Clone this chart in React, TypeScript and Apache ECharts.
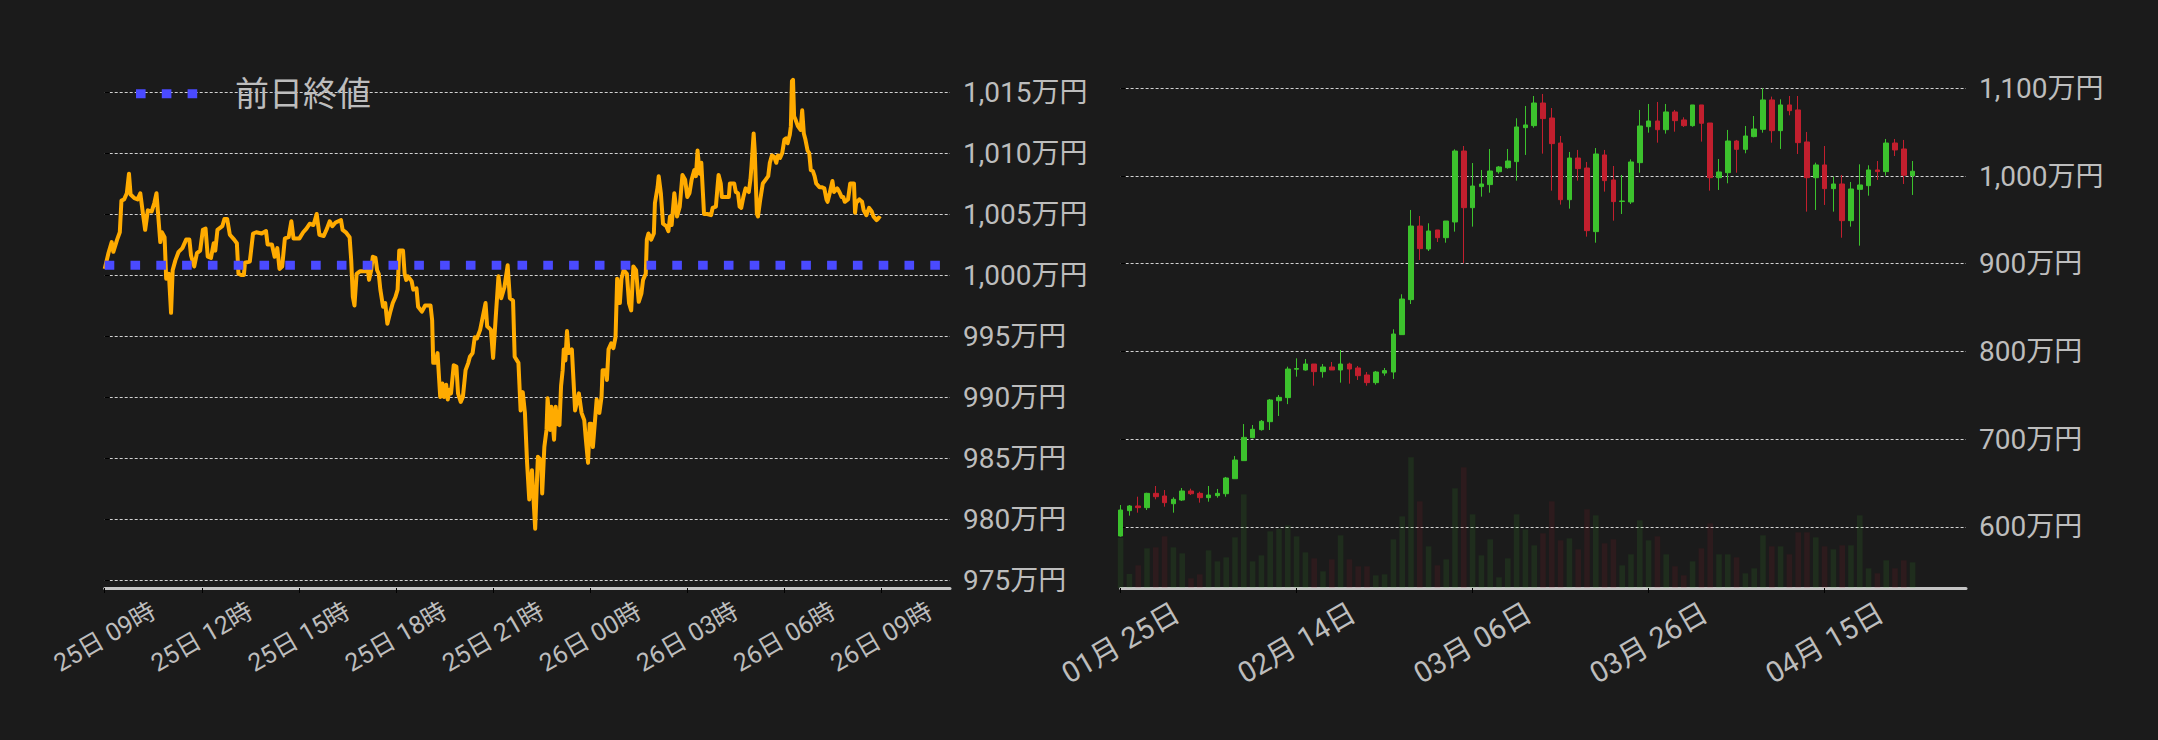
import React, { useEffect, useRef } from 'react';
import * as echarts from 'echarts';

// ---------- Left chart: intraday price (万円) ----------
const intradayPrices: [string, number][] = [
  ['25 09:00',1000.5],['25 09:07',1001.8],['25 09:13',1002.7],['25 09:16',1001.9],['25 09:23',1002.9],['25 09:28',1003.5],['25 09:31',1006.1],['25 09:36',1006.2],['25 09:41',1006.7],['25 09:45',1008.3],['25 09:48',1006.6],['25 09:55',1006.3],['25 10:01',1006.2],['25 10:06',1006.7],['25 10:11',1005.0],['25 10:15',1003.7],['25 10:20',1005.3],['25 10:27',1005.2],['25 10:32',1005.9],['25 10:36',1006.7],['25 10:39',1005.0],['25 10:43',1002.7],['25 10:46',1003.5],['25 10:51',1003.1],['25 10:54',999.7],['25 10:59',1000.1],['25 11:03',996.9],['25 11:06',1000.4],['25 11:11',1001.2],['25 11:17',1001.9],['25 11:24',1002.2],['25 11:31',1002.9],['25 11:37',1002.9],['25 11:40',1001.6],['25 11:46',1000.7],['25 11:51',1001.8],['25 11:57',1002.0],['25 12:02',1003.7],['25 12:07',1003.8],['25 12:11',1001.5],['25 12:17',1001.4],['25 12:22',1002.6],['25 12:25',1002.0],['25 12:29',1003.7],['25 12:38',1004.0],['25 12:42',1004.6],['25 12:47',1004.6],['25 12:52',1003.3],['25 13:00',1002.9],['25 13:05',1002.6],['25 13:08',1000.1],['25 13:13',1000.0],['25 13:18',1000.0],['25 13:20',1001.0],['25 13:29',1001.1],['25 13:35',1003.4],['25 13:41',1003.5],['25 13:51',1003.4],['25 13:59',1003.6],['25 14:02',1002.5],['25 14:10',1002.5],['25 14:15',1001.5],['25 14:20',1002.2],['25 14:24',1000.5],['25 14:29',1000.7],['25 14:34',1003.0],['25 14:41',1003.1],['25 14:46',1004.4],['25 14:50',1003.0],['25 15:01',1003.0],['25 15:08',1003.5],['25 15:14',1003.8],['25 15:20',1004.2],['25 15:27',1004.1],['25 15:33',1005.0],['25 15:38',1003.3],['25 15:46',1003.2],['25 15:52',1003.8],['25 15:57',1004.4],['25 16:02',1004.0],['25 16:08',1004.3],['25 16:18',1004.5],['25 16:21',1003.7],['25 16:27',1003.5],['25 16:34',1003.1],['25 16:37',1001.2],['25 16:40',998.2],['25 16:43',997.5],['25 16:47',1000.1],['25 16:53',1000.3],['25 17:03',1000.3],['25 17:08',1000.4],['25 17:10',999.6],['25 17:14',1000.4],['25 17:17',1001.5],['25 17:22',1001.4],['25 17:25',1000.4],['25 17:28',1000.1],['25 17:31',998.8],['25 17:36',997.4],['25 17:40',997.7],['25 17:44',996.0],['25 17:49',996.9],['25 17:54',997.7],['25 17:59',998.2],['25 18:03',998.8],['25 18:06',1002.0],['25 18:13',1002.0],['25 18:16',1000.1],['25 18:19',999.6],['25 18:22',999.9],['25 18:29',999.5],['25 18:32',998.8],['25 18:38',998.9],['25 18:41',997.4],['25 18:48',997.0],['25 18:54',997.5],['25 19:04',997.5],['25 19:07',996.3],['25 19:09',992.8],['25 19:13',992.8],['25 19:17',993.6],['25 19:22',990.0],['25 19:26',991.1],['25 19:29',990.0],['25 19:33',991.0],['25 19:36',989.8],['25 19:39',990.6],['25 19:42',990.3],['25 19:47',992.6],['25 19:52',992.5],['25 19:55',990.3],['25 20:00',989.6],['25 20:04',990.0],['25 20:09',992.2],['25 20:14',992.8],['25 20:17',993.3],['25 20:22',993.6],['25 20:26',994.9],['25 20:30',994.8],['25 20:36',995.5],['25 20:46',997.7],['25 20:49',995.8],['25 20:56',995.5],['25 21:00',993.2],['25 21:05',996.6],['25 21:10',999.9],['25 21:15',998.1],['25 21:21',999.0],['25 21:27',1000.8],['25 21:31',998.1],['25 21:37',997.9],['25 21:40',993.3],['25 21:47',992.8],['25 21:51',988.9],['25 21:55',990.4],['25 21:59',988.7],['25 22:03',984.6],['25 22:07',981.6],['25 22:12',984.0],['25 22:18',979.2],['25 22:23',985.1],['25 22:29',984.8],['25 22:31',982.1],['25 22:35',985.9],['25 22:39',987.3],['25 22:41',989.9],['25 22:46',987.3],['25 22:48',989.2],['25 22:53',986.5],['25 22:56',989.2],['25 22:59',987.8],['25 23:03',987.7],['25 23:06',990.9],['25 23:09',992.2],['25 23:11',993.9],['25 23:14',993.0],['25 23:17',995.4],['25 23:20',993.6],['25 23:26',993.9],['25 23:29',991.4],['25 23:32',988.9],['25 23:39',990.3],['25 23:44',988.7],['25 23:49',988.1],['25 23:52',986.5],['25 23:56',984.6],['25 23:59',987.8],
  ['26 00:02',987.8],['26 00:05',985.9],['26 00:09',988.1],['26 00:12',989.8],['26 00:17',988.7],['26 00:21',990.0],['26 00:23',992.2],['26 00:29',992.2],['26 00:31',991.4],['26 00:34',993.9],['26 00:39',994.4],['26 00:43',994.0],['26 00:47',994.9],['26 00:50',999.7],['26 00:55',997.7],['26 00:58',999.7],['26 01:02',1000.4],['26 01:08',1000.1],['26 01:12',997.7],['26 01:16',997.1],['26 01:20',1000.7],['26 01:25',1000.4],['26 01:30',997.8],['26 01:35',998.5],['26 01:38',999.6],['26 01:43',1000.1],['26 01:45',1002.9],['26 01:48',1003.4],['26 01:53',1002.9],['26 01:58',1003.4],['26 02:00',1005.9],['26 02:05',1007.2],['26 02:07',1008.1],['26 02:11',1006.7],['26 02:15',1004.2],['26 02:21',1004.0],['26 02:25',1003.6],['26 02:28',1004.8],['26 02:31',1004.1],['26 02:36',1006.7],['26 02:41',1004.8],['26 02:46',1005.6],['26 02:51',1008.2],['26 02:56',1007.8],['26 03:00',1006.4],['26 03:04',1006.7],['26 03:08',1007.8],['26 03:13',1008.6],['26 03:16',1008.1],['26 03:19',1010.2],['26 03:23',1008.3],['26 03:26',1009.2],['26 03:29',1006.7],['26 03:31',1005.0],['26 03:37',1005.0],['26 03:44',1004.9],['26 03:47',1005.5],['26 03:53',1005.6],['26 03:56',1007.2],['26 03:58',1008.2],['26 04:02',1007.5],['26 04:04',1006.4],['26 04:10',1006.4],['26 04:17',1006.4],['26 04:19',1007.5],['26 04:27',1007.5],['26 04:30',1006.8],['26 04:34',1006.7],['26 04:37',1005.6],['26 04:40',1005.5],['26 04:44',1006.4],['26 04:48',1007.1],['26 04:54',1006.8],['26 04:57',1007.8],['26 04:59',1008.9],['26 05:03',1011.6],['26 05:05',1010.2],['26 05:09',1005.0],['26 05:11',1004.8],['26 05:15',1006.1],['26 05:20',1007.5],['26 05:25',1007.8],['26 05:30',1008.1],['26 05:33',1009.2],['26 05:37',1009.8],['26 05:41',1009.7],['26 05:45',1009.2],['26 05:48',1009.8],['26 05:52',1009.6],['26 05:56',1010.0],['26 06:00',1011.1],['26 06:03',1011.2],['26 06:06',1010.8],['26 06:10',1011.5],['26 06:12',1012.2],['26 06:14',1015.9],['26 06:16',1016.0],['26 06:18',1013.0],['26 06:21',1012.7],['26 06:25',1012.2],['26 06:30',1011.9],['26 06:33',1013.5],['26 06:36',1011.6],['26 06:39',1011.1],['26 06:43',1010.2],['26 06:46',1010.0],['26 06:49',1008.6],['26 06:53',1008.5],['26 06:56',1008.1],['26 06:59',1007.5],['26 07:05',1007.2],['26 07:09',1007.2],['26 07:14',1007.1],['26 07:18',1006.2],['26 07:20',1006.0],['26 07:24',1006.7],['26 07:29',1007.7],['26 07:32',1006.8],['26 07:38',1007.1],['26 07:42',1006.8],['26 07:46',1006.4],['26 07:49',1006.4],['26 07:52',1006.0],['26 07:58',1006.2],['26 08:02',1007.5],['26 08:09',1007.5],['26 08:11',1005.1],['26 08:13',1005.9],['26 08:19',1006.2],['26 08:24',1006.0],['26 08:27',1005.3],['26 08:32',1004.9],['26 08:37',1005.5],['26 08:42',1005.2],['26 08:45',1004.8],['26 08:51',1004.5],['26 08:55',1004.7],['26 08:58',1004.6],
];
const previousClose = 1000.8;
const previousCloseLabel = '前日終値';
const intradayTickLabels = ['25日 09時', '25日 12時', '25日 15時', '25日 18時', '25日 21時', '26日 00時', '26日 03時', '26日 06時', '26日 09時'];

// ---------- Right chart: daily candles (万円) ----------
const candleDates = [
  '01-25','01-26','01-27','01-28','01-29','01-30','01-31',
  '02-01','02-02','02-03','02-04','02-05','02-06','02-07','02-08','02-09','02-10','02-11','02-12','02-13','02-14',
  '02-15','02-16','02-17','02-18','02-19','02-20','02-21','02-22','02-23','02-24','02-25','02-26','02-27','02-28',
  '03-01','03-02','03-03','03-04','03-05','03-06','03-07','03-08','03-09','03-10','03-11','03-12','03-13','03-14','03-15',
  '03-16','03-17','03-18','03-19','03-20','03-21','03-22','03-23','03-24','03-25','03-26','03-27','03-28','03-29','03-30','03-31',
  '04-01','04-02','04-03','04-04','04-05','04-06','04-07','04-08','04-09','04-10','04-11','04-12','04-13','04-14','04-15',
  '04-16','04-17','04-18','04-19','04-20','04-21','04-22','04-23','04-24','04-25',
];
// [open, close, low, high]
const candleOHLC: [number, number, number, number][] = [
  [589.7,619.3,589.0,625.0],[618.6,623.9,612.9,625.0],[623.9,622.0,616.3,634.5],[622.0,638.3,619.3,639.0],[638.3,634.5,631.5,646.7],
  [635.3,627.7,623.1,642.1],[626.5,631.5,616.3,633.8],[630.7,641.0,629.6,644.4],[641.0,637.9,636.4,643.6],[638.3,633.4,627.7,640.2],
  [633.4,636.4,628.8,646.7],[635.7,638.3,633.4,643.3],[637.9,655.8,634.5,657.0],[655.0,676.3,655.0,680.9],[675.6,702.1,675.6,717.3],
  [701.8,711.3,701.0,716.2],[710.9,720.4,709.8,721.9],[720.0,744.7,710.5,745.8],[743.9,747.7,726.5,750.4],[747.4,780.0,740.0,782.7],
  [779.8,780.6,771.3,792.2],[778.9,785.7,778.2,791.4],[785.7,777.0,761.0,785.7],[777.0,782.3,770.2,785.7],[782.3,778.9,778.9,788.0],
  [778.9,785.7,764.5,801.7],[785.7,780.0,763.3,787.2],[781.2,772.4,767.5,783.5],[773.2,764.5,761.0,776.6],[764.5,776.6,762.2,777.8],
  [775.4,778.2,772.4,781.2],[776.6,819.9,768.7,825.3],[819.2,859.8,819.2,865.2],[859.1,943.0,854.1,961.3],[943.0,917.2,904.3,954.4],
  [916.8,937.3,914.5,946.1],[938.5,929.7,924.8,938.5],[929.7,948.7,924.0,948.7],[947.6,1028.5,936.6,1030.4],[1028.5,963.9,900.5,1034.2],
  [963.9,988.6,942.3,1014.8],[987.9,990.9,976.5,1006.9],[990.2,1005.7,981.0,1030.8],[1004.9,1010.3,1002.7,1011.4],[1009.5,1017.1,1008.4,1030.8],
  [1016.4,1055.9,994.7,1065.8],[1055.1,1058.2,1024.0,1079.8],[1057.4,1083.2,1055.1,1091.2],[1083.2,1065.4,1025.5,1093.5],[1066.1,1036.9,983.3,1077.5],
  [1037.6,973.0,967.4,1045.6],[973.0,1020.5,962.8,1027.4],[1020.5,1008.4,994.7,1029.7],[1009.1,937.7,930.9,1016.0],[936.6,1025.1,924.0,1031.9],
  [1024.0,994.7,982.2,1029.7],[995.5,970.8,949.1,1011.4],[971.0,971.5,956.7,1001.2],[970.4,1016.0,968.1,1019.0],[1015.2,1057.0,1003.8,1075.3],
  [1056.2,1062.7,1049.4,1082.1],[1062.7,1052.8,1038.0,1084.4],[1052.8,1073.0,1048.3,1082.1],[1073.0,1063.1,1050.5,1075.3],[1063.9,1057.4,1055.9,1066.9],
  [1057.4,1081.0,1056.2,1081.0],[1081.0,1060.1,1039.2,1081.0],[1060.4,998.1,983.3,1060.4],[998.1,1004.6,984.1,1019.4],[1003.8,1039.9,991.7,1052.5],
  [1039.9,1030.4,1003.8,1041.1],[1030.4,1045.6,1025.9,1057.0],[1044.9,1053.6,1044.1,1068.4],[1053.2,1086.7,1049.4,1100.0],[1086.7,1051.7,1038.0,1090.5],
  [1051.7,1081.0,1030.8,1087.4],[1081.0,1074.5,1069.2,1091.2],[1075.3,1038.0,1025.1,1091.2],[1038.8,998.1,959.4,1050.2],[998.1,1012.6,961.3,1015.2],
  [1012.6,985.6,967.0,1034.2],[985.6,990.9,959.4,999.3],[990.9,949.1,929.7,1001.2],[949.1,985.2,942.3,993.2],[984.8,989.8,920.6,1013.3],
  [989.0,1006.9,977.6,1012.2],[1006.9,1005.0,995.5,1017.1],[1005.0,1037.6,1000.4,1042.2],[1037.6,1029.7,1022.8,1042.2],[1030.8,1000.8,990.9,1041.1],
  [1000.4,1005.4,978.4,1017.1],
];
// relative traded volume
const candleVolumes = [
  50.0,14.0,22.7,39.7,40.7,51.7,40.7,34.7,9.7,13.7,37.7,26.7,30.7,50.7,93.7,26.7,32.7,56.7,59.3,62.7,
  51.7,35.7,29.7,16.7,28.7,52.7,28.7,21.7,21.7,12.7,13.7,48.7,71.7,130.7,86.7,41.7,22.7,28.7,99.7,120.7,
  73.7,32.7,48.7,10.7,29.7,73.7,58.7,42.7,54.7,86.7,47.7,49.7,38.7,78.7,72.7,44.7,48.7,22.7,33.7,67.7,
  47.7,51.7,33.7,21.7,12.7,26.7,39.7,64.7,33.7,33.7,30.7,14.7,19.7,52.7,41.7,41.7,33.7,55.7,55.7,50.7,
  41.7,38.7,42.7,42.7,72.7,19.7,14.7,27.7,19.7,27.7,25.7,
];
const dailyTickLabels = ['01月 25日', '02月 14日', '03月 06日', '03月 26日', '04月 15日'];

// ---------- styling ----------
const BG = '#1b1b1b';
const TEXT = '#bdbdbd';
const GRIDLINE = '#d2d2d2';
const AXIS = '#c4c4c4';
const ORANGE = '#ffab00';
const BLUE = '#4a4aff';
const UP = '#3cc22d';
const DOWN = '#c21f2e';
const FONT = 'Roboto, "Noto Sans CJK JP", sans-serif';
const DOT_DASH = [9.6, 16.2];

const toMinutes = (s: string) => {
  const [d, hm] = s.split(' ');
  const [h, m] = hm.split(':').map(Number);
  return (Number(d) - 25) * 1440 + (h - 9) * 60 + m;
};
const yen = (v: number) => Math.round(v).toLocaleString('en-US') + '万円';

const INTRADAY_MAX = 1567;
const DAILY_MAX = 96.07;

function buildOption(): any {
  const splitLine = { show: true, lineStyle: { color: GRIDLINE, width: 1, type: [3, 2] } };
  return {
    animation: false,
    backgroundColor: BG,
    textStyle: { fontFamily: FONT },
    graphic: [
      {
        type: 'line', silent: true, z: 10,
        shape: { x1: 136, y1: 93.8, x2: 197.4, y2: 93.8 },
        style: { stroke: BLUE, lineWidth: 9, lineDash: DOT_DASH, lineCap: 'butt' },
      },
      {
        type: 'text', silent: true, z: 10, x: 235, y: 94,
        style: { text: previousCloseLabel, fill: TEXT, fontSize: 34, fontFamily: FONT, textAlign: 'left', textVerticalAlign: 'middle', verticalAlign: 'middle' },
      },
    ],
    grid: [
      { left: 104.7, right: 1208, top: 55.4, bottom: 160, containLabel: false, outerBoundsMode: 'none' },
      { left: 1120.6, right: 192, top: 44.4, bottom: 125.3, containLabel: false, outerBoundsMode: 'none' },
      { left: 1120.6, right: 192, top: 388, bottom: 152, containLabel: false, outerBoundsMode: 'none' },
    ],
    xAxis: [
      {
        gridIndex: 0, type: 'value', min: 0, max: INTRADAY_MAX, interval: 180, offset: 8,
        axisLine: { show: true, lineStyle: { color: AXIS, width: 3 } },
        axisTick: { show: true, length: 5, lineStyle: { color: '#000', width: 1 } },
        axisLabel: {
          rotate: 30, align: 'center', verticalAlign: 'middle', margin: 49, fontSize: 25, color: TEXT,
          showMaxLabel: false,
          formatter: (v: number) => (v % 180 === 0 ? intradayTickLabels[v / 180] ?? '' : ''),
        },
        splitLine: { show: false },
      },
      {
        gridIndex: 1, type: 'value', min: 0, max: DAILY_MAX, interval: 20, show: false,
        splitLine: { show: false },
      },
      {
        gridIndex: 2, type: 'value', min: 0, max: DAILY_MAX, interval: 20,
        axisLine: { show: true, lineStyle: { color: AXIS, width: 3 } },
        axisTick: { show: true, length: 5, lineStyle: { color: '#000', width: 1 } },
        axisLabel: {
          rotate: 30, align: 'center', verticalAlign: 'middle', margin: 55, fontSize: 29, color: TEXT,
          showMaxLabel: false,
          formatter: (v: number) => (v % 20 === 0 ? dailyTickLabels[v / 20] ?? '' : ''),
        },
        splitLine: { show: false },
      },
    ],
    yAxis: [
      {
        gridIndex: 0, type: 'value', position: 'right', min: 975, max: 1018, interval: 5,
        axisLine: { show: false },
        axisTick: { show: true, length: 5, lineStyle: { color: '#000' } },
        axisLabel: { color: TEXT, fontSize: 28, margin: 13, showMaxLabel: false, formatter: yen },
        splitLine: { ...splitLine, showMaxLine: false },
      },
      {
        gridIndex: 1, type: 'value', position: 'right', min: 500, max: 1150, interval: 100,
        axisLine: { show: false },
        axisTick: { show: true, length: 5, lineStyle: { color: '#000' } },
        axisLabel: { color: TEXT, fontSize: 28, margin: 13, showMinLabel: false, showMaxLabel: false, formatter: yen },
        splitLine: { ...splitLine, showMinLine: false, showMaxLine: false },
      },
      {
        gridIndex: 2, type: 'value', min: 0, max: 200, show: false, splitLine: { show: false },
      },
    ],
    series: [
      {
        name: '価格', type: 'line', xAxisIndex: 0, yAxisIndex: 0,
        data: intradayPrices.map(([t, v]) => [toMinutes(t), v]),
        symbol: 'none', showSymbol: false,
        lineStyle: { color: ORANGE, width: 4, join: 'round' },
        z: 2,
      },
      {
        name: previousCloseLabel, type: 'line', xAxisIndex: 0, yAxisIndex: 0,
        data: [[0, previousClose], [INTRADAY_MAX, previousClose]],
        symbol: 'none', showSymbol: false,
        itemStyle: { color: BLUE },
        lineStyle: { color: BLUE, width: 9, type: DOT_DASH, cap: 'butt' },
        z: 3,
      },
      {
        name: '出来高', type: 'bar', xAxisIndex: 2, yAxisIndex: 2, barWidth: 5.6,
        data: candleVolumes.map((v, i) => ({
          value: [i, v],
          itemStyle: {
            color: candleOHLC[i][1] >= candleOHLC[i][0] ? 'rgba(60,194,45,0.11)' : 'rgba(194,31,46,0.11)',
          },
        })),
        z: 1,
      },
      {
        name: '日足', type: 'candlestick', xAxisIndex: 1, yAxisIndex: 1, barWidth: 5,
        encode: { x: 0, y: [1, 2, 3, 4] },
        data: candleOHLC.map((r, i) => [i, r[0], r[1], r[2], r[3]]),
        itemStyle: { color: UP, color0: DOWN, borderColor: UP, borderColor0: DOWN, borderWidth: 1 },
        z: 2,
      },
    ],
  };
}

export default function App() {
  const ref = useRef<HTMLDivElement>(null);
  useEffect(() => {
    document.body.style.margin = '0';
    document.body.style.background = BG;
    const chart = echarts.init(ref.current!, undefined, { renderer: 'svg', width: 2158, height: 740 });
    chart.setOption(buildOption());
    return () => chart.dispose();
  }, []);
  return <div ref={ref} style={{ position: 'fixed', left: 0, top: 0, width: 2158, height: 740, background: BG }} />;
}
